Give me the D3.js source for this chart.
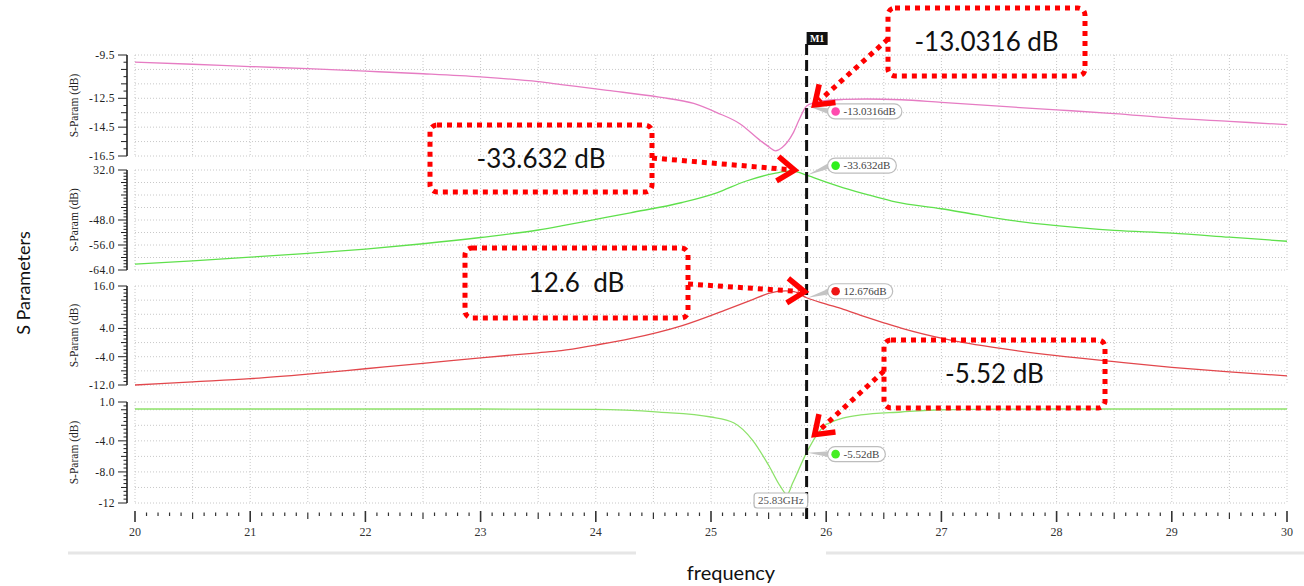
<!DOCTYPE html>
<html>
<head>
<meta charset="utf-8">
<script src="https://cdn.jsdelivr.net/npm/d3@7"></script>
<style>
  body { margin: 0; background: #fff; }
  svg { display: block; }
</style>
</head>
<body>
<svg id="chart" width="1304" height="586"></svg>
<script>
// ---- frequency axis ----
const freqTicks = [20, 21, 22, 23, 24, 25, 26, 27, 28, 29, 30];
const freqTickLabels = ["20", "21", "22", "23", "24", "25", "26", "27", "28", "29", "30"];
const markerFreq = 25.83;
const markerFreqLabel = "25.83GHz";
const markerName = "M1";

// ---- S11 (top panel) ----
const s11Freq = [20.0, 20.5, 21.0, 21.5, 22.0, 22.5, 23.0, 23.5, 23.7, 24.1, 24.55, 24.85, 25.05, 25.25, 25.43, 25.5, 25.56, 25.62, 25.71, 25.77, 25.83, 25.9, 25.97, 26.15, 26.35, 26.65, 27.0, 27.5, 28.0, 28.5, 29.0, 29.5, 30.0];
const s11dB = [-9.99, -10.14, -10.3, -10.45, -10.62, -10.8, -11.02, -11.35, -11.55, -11.95, -12.42, -12.86, -13.49, -14.26, -15.44, -15.85, -16.14, -15.9, -14.95, -13.9, -13.0316, -12.8, -12.68, -12.58, -12.55, -12.6, -12.79, -13.05, -13.3, -13.56, -13.87, -14.1, -14.33];

// ---- S12 (second panel) ----
const s12Freq = [20.0, 20.5, 21.0, 21.5, 22.0, 22.5, 23.0, 23.5, 23.7, 24.0, 24.3, 24.75, 25.05, 25.3, 25.55, 25.7, 25.83, 26.0, 26.15, 26.4, 26.6, 27.0, 27.3, 27.62, 28.0, 28.5, 29.0, 29.5, 30.0];
const s12dB = [-62.1, -61.1, -59.9, -58.7, -57.3, -55.6, -53.6, -51.2, -49.9, -47.8, -45.7, -42.4, -39.3, -35.6, -33.1, -32.3, -33.632, -35.9, -37.7, -40.3, -42.2, -44.4, -46.3, -48.2, -49.8, -51.3, -52.2, -53.5, -54.8];

// ---- S21 (third panel) ----
const s21Freq = [20.0, 20.5, 21.0, 21.5, 22.0, 22.5, 23.0, 23.5, 23.7, 24.0, 24.3, 24.75, 25.14, 25.35, 25.5, 25.65, 25.72, 25.83, 26.0, 26.15, 26.3, 26.5, 26.65, 27.05, 27.5, 28.0, 28.5, 29.0, 29.5, 30.0];
const s21dB = [-12.0, -11.1, -10.2, -8.9, -7.4, -5.9, -4.3, -2.9, -2.3, -0.7, 1.1, 4.8, 9.4, 12.0, 13.9, 14.6, 14.4, 12.676, 10.9, 9.4, 7.7, 5.6, 4.1, 0.9, -1.6, -3.7, -5.4, -7.0, -8.3, -9.4];

// ---- S22 (bottom panel) ----
const s22Freq = [20.0, 21.0, 22.0, 23.0, 24.0, 24.55, 25.0, 25.2, 25.36, 25.51, 25.6, 25.66, 25.71, 25.83, 25.92, 26.0, 26.3, 26.65, 27.0, 27.5, 28.0, 30.0];
const s22dB = [0.1, 0.1, 0.1, 0.1, 0.05, -0.3, -0.93, -1.7, -3.9, -7.4, -9.8, -10.9, -9.4, -5.52, -3.2, -1.9, -0.67, -0.29, 0.0, 0.08, 0.1, 0.1];

// ---- y tick labels per panel ----
const p1TickValues = [-9.5, -12.5, -14.5, -16.5];
const p1TickLabels = ["-9.5", "-12.5", "-14.5", "-16.5"];
const p2TickValues = [-32, -48, -56, -64];
const p2TickLabels = ["32.0", "-48.0", "-56.0", "-64.0"];
const p3TickValues = [16, 4, -4, -12];
const p3TickLabels = ["16.0", "4.0", "-4.0", "-12.0"];
const p4TickValues = [1, -4, -8, -12];
const p4TickLabels = ["1.0", "-4.0", "-8.0", "-12"];

// ---- marker readouts and callouts ----
const markerValues = [-13.0316, -33.632, 12.676, -5.52];
const markerReadouts = ["-13.0316dB", "-33.632dB", "12.676dB", "-5.52dB"];
const calloutTexts = ["-13.0316 dB", "-33.632 dB", "12.6  dB", "-5.52 dB"];

const yTitle = "S-Param (dB)";
const leftTitle = "S Parameters";
const bottomTitle = "frequency";

// ================= drawing =================
const svg = d3.select("#chart");
const plotLeft = 135, plotRight = 1287, axisX = 127;
const x = d3.scaleLinear().domain([20, 30]).range([plotLeft, plotRight]);
const serif = "'Liberation Serif', 'DejaVu Serif', serif";

const panels = [
  { freq: s11Freq, dB: s11dB, domain: [-9.5, -16.5], top: 55, bottom: 156,
    grid: d3.range(-9.5, -16.6, -1), minor: d3.range(-9.5, -16.51, -0.5),
    tv: p1TickValues, tl: p1TickLabels, color: "#e67cc3", dot: "#ff4aae", readDy: 5.5 },
  { freq: s12Freq, dB: s12dB, domain: [-32, -64], top: 170, bottom: 270,
    grid: d3.range(-32, -64.1, -4), minor: d3.range(-32, -64.01, -1),
    tv: p2TickValues, tl: p2TickLabels, color: "#5fe04c", dot: "#2ef01c", readDy: -9.5 },
  { freq: s21Freq, dB: s21dB, domain: [16, -12], top: 286, bottom: 385,
    grid: d3.range(16, -12.1, -4), minor: d3.range(16, -12.01, -1),
    tv: p3TickValues, tl: p3TickLabels, color: "#e2474c", dot: "#ee1414", readDy: -6.5 },
  { freq: s22Freq, dB: s22dB, domain: [1, -12], top: 402, bottom: 503,
    grid: [1].concat(d3.range(0, -12.1, -2)), minor: d3.range(1, -12.01, -0.5),
    tv: p4TickValues, tl: p4TickLabels, color: "#8de26a", dot: "#44ee22", readDy: 1.5 }
];
panels.forEach(p => { p.y = d3.scaleLinear().domain(p.domain).range([p.top, p.bottom]); });

const gridLayer = svg.append("g");
const lineLayer = svg.append("g");
const axisLayer = svg.append("g");
const markLayer = svg.append("g");
const noteLayer = svg.append("g");

const halfSteps = d3.range(20, 30.001, 0.5);

panels.forEach((p, i) => {
  // dotted grid
  gridLayer.selectAll(null).data(p.grid).join("line")
    .attr("x1", plotLeft).attr("x2", plotRight)
    .attr("y1", d => p.y(d)).attr("y2", d => p.y(d))
    .attr("stroke", "#c8c8c8").attr("stroke-width", 1).attr("stroke-dasharray", "1,2");
  gridLayer.selectAll(null).data(halfSteps).join("line")
    .attr("x1", d => x(d)).attr("x2", d => x(d))
    .attr("y1", p.top).attr("y2", p.bottom)
    .attr("stroke", "#c8c8c8").attr("stroke-width", 1).attr("stroke-dasharray", "1,2");

  // trace
  const pts = p.freq.map((f, k) => [f, p.dB[k]]);
  lineLayer.append("path").datum(pts)
    .attr("fill", "none").attr("stroke", p.color).attr("stroke-width", 1.3)
    .attr("d", d3.line().x(d => x(d[0])).y(d => p.y(d[1])).curve(d3.curveMonotoneX));

  // left axis: spine + ticks + labels
  const g = axisLayer.append("g");
  g.append("line").attr("x1", axisX).attr("x2", axisX)
    .attr("y1", p.top).attr("y2", p.bottom).attr("stroke", "#222").attr("stroke-width", 1.6);
  const gridSet = p.grid.map(v => v.toFixed(2));
  const labSet = p.tv.map(v => v.toFixed(2));
  g.selectAll(null).data(p.minor).join("line")
    .attr("x1", d => axisX - (labSet.includes(d.toFixed(2)) ? 9 : gridSet.includes(d.toFixed(2)) ? 6 : 3.5))
    .attr("x2", axisX)
    .attr("y1", d => p.y(d)).attr("y2", d => p.y(d))
    .attr("stroke", "#222").attr("stroke-width", 1);
  g.selectAll(null).data(p.tv).join("text")
    .attr("x", 115).attr("y", d => p.y(d)).attr("dy", "0.35em")
    .attr("text-anchor", "end").attr("font-family", serif).attr("font-size", 11.5).attr("fill", "#222")
    .attr("letter-spacing", 0.4)
    .text((d, k) => p.tl[k]);
  g.append("text")
    .attr("transform", `translate(78,${(p.top + p.bottom) / 2}) rotate(-90)`)
    .attr("text-anchor", "middle").attr("font-family", serif).attr("font-size", 11.5).attr("fill", "#222")
    .text(yTitle);
});

// bottom frequency axis
const axisY = 511;
const tenths = d3.range(200, 301).map(v => v / 10);
axisLayer.selectAll(null).data(tenths).join("line")
  .attr("x1", d => x(d)).attr("x2", d => x(d))
  .attr("y1", d => Math.abs(d - Math.round(d)) < 1e-6 ? axisY : axisY + 1.5)
  .attr("y2", d => Math.abs(d - Math.round(d)) < 1e-6 ? axisY + 11
                 : Math.abs(d * 2 - Math.round(d * 2)) < 1e-6 ? axisY + 8 : axisY + 5)
  .attr("stroke", "#333").attr("stroke-width", d => Math.abs(d - Math.round(d)) < 1e-6 ? 1.6 : 1.2);
axisLayer.selectAll(null).data(freqTicks).join("text")
  .attr("x", d => x(d)).attr("y", 536).attr("text-anchor", "middle")
  .attr("font-family", serif).attr("font-size", 12).attr("fill", "#333")
  .text((d, k) => freqTickLabels[k]);

// page decorations
svg.append("line").attr("x1", 68).attr("x2", 636).attr("y1", 553).attr("y2", 553)
  .attr("stroke", "#e6e6e6").attr("stroke-width", 3);
svg.append("line").attr("x1", 826).attr("x2", 1304).attr("y1", 553).attr("y2", 553)
  .attr("stroke", "#e6e6e6").attr("stroke-width", 3);
svg.append("text").attr("transform", "translate(30,283) rotate(-90)")
  .attr("text-anchor", "middle").attr("font-family", "Lato, 'Open Sans', sans-serif")
  .attr("font-size", 18).attr("fill", "#111").text(leftTitle);
svg.append("text").attr("x", 731).attr("y", 580).attr("text-anchor", "middle")
  .attr("font-family", "Lato, 'Open Sans', sans-serif").attr("font-size", 20).attr("fill", "#111")
  .text(bottomTitle);

// ---- marker M1 ----
const mx = x(markerFreq);
markLayer.append("line").attr("x1", mx).attr("x2", mx).attr("y1", 44).attr("y2", 521)
  .attr("stroke", "#111").attr("stroke-width", 3).attr("stroke-dasharray", "11,5");
markLayer.append("rect").attr("x", mx).attr("y", 32).attr("width", 21).attr("height", 13).attr("fill", "#111");
markLayer.append("text").attr("x", mx + 10.5).attr("y", 42).attr("text-anchor", "middle")
  .attr("font-family", serif).attr("font-size", 10).attr("font-weight", "bold").attr("fill", "#fff")
  .text(markerName);

// frequency readout at the bottom of the marker
const fq = markLayer.append("g");
const fqText = fq.append("text").attr("x", mx - 3).attr("y", 504).attr("text-anchor", "end")
  .attr("font-family", serif).attr("font-size", 11).attr("fill", "#555").text(markerFreqLabel);
const fqW = fqText.node().getComputedTextLength();
fq.insert("rect", "text").attr("x", mx - fqW - 7).attr("y", 493).attr("width", fqW + 8).attr("height", 15)
  .attr("rx", 3).attr("fill", "#fff").attr("stroke", "#b8b8b8").attr("stroke-width", 1.2);

// value readouts on each trace
panels.forEach((p, i) => {
  const my = p.y(markerValues[i]);
  const by = my + p.readDy;
  const bx = mx + 21;
  const g = markLayer.append("g");
  g.append("path")
    .attr("d", `M${mx + 1},${my} L${bx + 2},${by - 3} L${bx + 2},${by + 3} Z`)
    .attr("fill", "#c4c4c4");
  const t = g.append("text").attr("x", bx + 16).attr("y", by).attr("dy", "0.35em")
    .attr("font-family", serif).attr("font-size", 11).attr("fill", "#444").text(markerReadouts[i]);
  const w = t.node().getComputedTextLength();
  g.insert("rect", "text").attr("x", bx).attr("y", by - 7.5).attr("width", w + 22).attr("height", 15)
    .attr("rx", 7.5).attr("fill", "#fff").attr("stroke", "#bdbdbd").attr("stroke-width", 1.2);
  g.append("circle").attr("cx", bx + 8).attr("cy", by).attr("r", 4.3).attr("fill", p.dot);
});

// ---- red dotted callouts ----
const callouts = [
  { box: [888, 8, 197, 68], from: [888, 39], tip: [8, -1] },
  { box: [430, 125, 222, 67], from: [652, 158], tip: [-12, -5] },
  { box: [465, 248, 223, 70], from: [688, 284], tip: [-2, -6] },
  { box: [884, 340, 221, 68], from: [884, 371], tip: [8, -18] }
];
const red = "#ff0000";
callouts.forEach((c, i) => {
  const [bx, by, bw, bh] = c.box;
  const g = noteLayer.append("g");
  g.append("rect").attr("x", bx).attr("y", by).attr("width", bw).attr("height", bh).attr("rx", 7)
    .attr("fill", "none").attr("stroke", red).attr("stroke-width", 5).attr("stroke-dasharray", "5,5");
  g.append("text").attr("x", bx + bw / 2).attr("y", by + bh / 2).attr("dy", "0.36em")
    .attr("text-anchor", "middle").attr("font-family", "Lato, 'Open Sans', sans-serif")
    .attr("font-size", 26).attr("fill", "#111").style("white-space", "pre")
    .text(calloutTexts[i]);

  const tx = mx + c.tip[0], ty = panels[i].y(markerValues[i]) + c.tip[1];
  const [sx, sy] = c.from;
  const ang = Math.atan2(sy - ty, sx - tx);
  const ex = tx + Math.cos(ang) * 6, ey = ty + Math.sin(ang) * 6;
  g.append("line").attr("x1", sx).attr("y1", sy).attr("x2", ex).attr("y2", ey)
    .attr("stroke", red).attr("stroke-width", 5).attr("stroke-dasharray", "5,5");
  const arm = 21, spread = 0.62;
  const a1 = [tx + Math.cos(ang + spread) * arm, ty + Math.sin(ang + spread) * arm];
  const a2 = [tx + Math.cos(ang - spread) * arm, ty + Math.sin(ang - spread) * arm];
  g.append("path").attr("d", `M${a1[0]},${a1[1]} L${tx},${ty} L${a2[0]},${a2[1]}`)
    .attr("fill", "none").attr("stroke", red).attr("stroke-width", 5.5)
    .attr("stroke-linejoin", "miter").attr("stroke-linecap", "butt");
});
</script>
</body>
</html>
